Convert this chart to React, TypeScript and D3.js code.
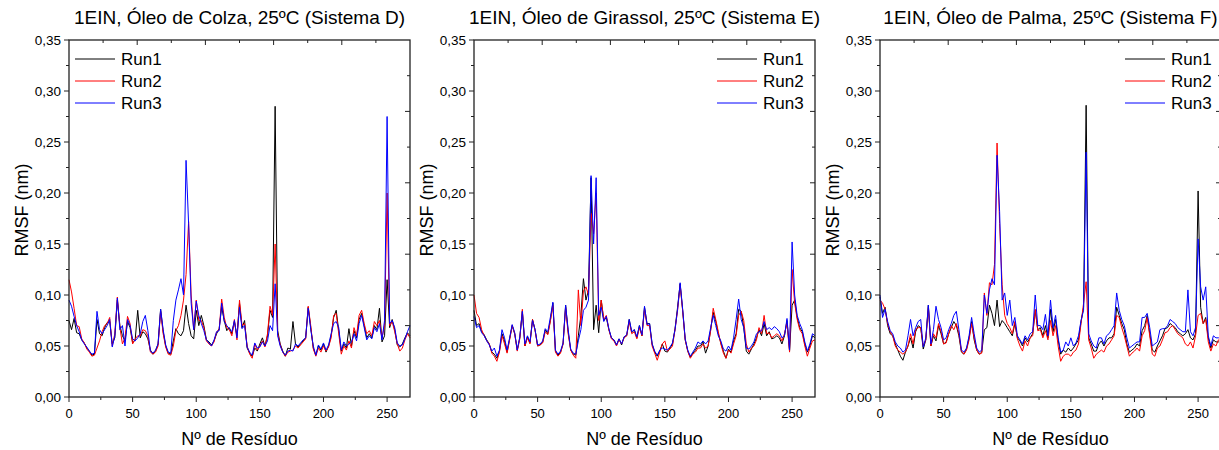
import * as d3 from 'd3';

// residue numbers (sampled every 2 residues)
const residues = [
  0, 2, 4, 6, 8, 10, 12, 14, 16, 18,
  20, 22, 24, 26, 28, 30, 32, 34, 36, 38,
  40, 42, 44, 46, 48, 50, 52, 54, 56, 58,
  60, 62, 64, 66, 68, 70, 72, 74, 76, 78,
  80, 82, 84, 86, 88, 90, 92, 94, 96, 98,
  100, 102, 104, 106, 108, 110, 112, 114, 116, 118,
  120, 122, 124, 126, 128, 130, 132, 134, 136, 138,
  140, 142, 144, 146, 148, 150, 152, 154, 156, 158,
  160, 162, 164, 166, 168, 170, 172, 174, 176, 178,
  180, 182, 184, 186, 188, 190, 192, 194, 196, 198,
  200, 202, 204, 206, 208, 210, 212, 214, 216, 218,
  220, 222, 224, 226, 228, 230, 232, 234, 236, 238,
  240, 242, 244, 246, 248, 250, 252, 254, 256, 258,
  260, 262, 264, 266, 268,
];

// RMSF values in 0.001 nm
const colzaRun1 = [
  75, 66, 77, 63, 62, 56, 53, 48, 45, 41,
  42, 76, 62, 60, 68, 73, 74, 52, 58, 95,
  70, 60, 55, 74, 68, 53, 56, 85, 58, 64,
  62, 57, 46, 42, 45, 52, 86, 64, 50, 43,
  42, 55, 67, 62, 60, 65, 90, 72, 60, 57,
  85, 70, 80, 70, 56, 54, 51, 55, 62, 67,
  88, 75, 65, 68, 62, 74, 60, 92, 68, 75,
  48, 43, 40, 48, 45, 52, 58, 50, 60, 85,
  78, 285, 65, 52, 45, 40, 48, 47, 74, 52,
  49, 52, 55, 58, 88, 68, 48, 41, 50, 46,
  52, 44, 50, 60, 78, 85, 65, 45, 52, 48,
  67, 50, 65, 58, 76, 82, 70, 58, 62, 58,
  70, 66, 87, 54, 60, 115, 68, 76, 66, 51,
  49, 52, 58, 63, 60,
];
const colzaRun2 = [
  115, 103, 87, 70, 69, 57, 53, 47, 44, 40,
  41, 48, 55, 64, 70, 72, 78, 50, 62, 98,
  68, 52, 58, 79, 72, 52, 57, 60, 60, 66,
  65, 60, 44, 42, 44, 50, 84, 62, 49, 42,
  41, 50, 65, 70, 80, 95, 120, 172, 100, 66,
  95, 75, 75, 68, 55, 52, 50, 54, 64, 66,
  96, 78, 68, 66, 60, 76, 56, 95, 70, 72,
  50, 42, 38, 52, 46, 50, 55, 49, 62, 89,
  80, 150, 62, 51, 44, 40, 44, 45, 46, 50,
  48, 51, 54, 57, 89, 70, 47, 40, 48, 44,
  50, 45, 49, 58, 80, 82, 62, 42, 50, 46,
  55, 48, 68, 60, 80, 85, 72, 62, 65, 60,
  74, 70, 75, 58, 70, 200, 70, 74, 64, 52,
  45, 48, 56, 62, 58,
];
const colzaRun3 = [
  95, 89, 79, 70, 64, 56, 52, 49, 45, 42,
  43, 84, 66, 62, 66, 70, 76, 49, 60, 97,
  66, 70, 50, 76, 70, 57, 55, 58, 62, 74,
  80, 65, 45, 43, 46, 52, 86, 66, 51, 44,
  43, 75, 95, 105, 116, 100, 232, 170, 92, 66,
  94, 80, 72, 65, 56, 53, 50, 56, 64, 65,
  92, 74, 70, 67, 64, 75, 58, 88, 67, 70,
  49, 44, 41, 53, 48, 49, 54, 50, 55, 70,
  65, 111, 60, 50, 44, 41, 45, 46, 45, 52,
  50, 53, 56, 58, 87, 66, 50, 41, 51, 47,
  53, 46, 51, 62, 72, 74, 68, 46, 54, 50,
  52, 54, 62, 55, 72, 80, 68, 56, 60, 57,
  68, 64, 72, 56, 75, 275, 72, 75, 68, 53,
  50, 51, 57, 64, 70,
];

const girassolRun1 = [
  85, 70, 72, 64, 61, 56, 52, 44, 42, 38,
  45, 62, 55, 44, 57, 70, 62, 46, 58, 84,
  50, 59, 53, 76, 66, 50, 51, 54, 66, 62,
  75, 92, 45, 41, 44, 52, 90, 64, 46, 42,
  41, 60, 80, 116, 95, 105, 215, 66, 90, 63,
  95, 75, 78, 66, 58, 56, 51, 57, 51, 59,
  60, 76, 63, 66, 58, 70, 60, 88, 72, 72,
  52, 44, 40, 45, 52, 45, 44, 48, 52, 67,
  88, 111, 85, 56, 45, 39, 43, 46, 50, 50,
  54, 43, 50, 66, 83, 74, 62, 53, 45, 38,
  47, 44, 55, 62, 86, 84, 68, 45, 42, 47,
  52, 58, 66, 60, 72, 60, 64, 57, 58, 60,
  58, 52, 60, 75, 45, 90, 95, 78, 68, 64,
  52, 44, 50, 60, 58,
];
const girassolRun2 = [
  100, 82, 78, 66, 60, 55, 52, 43, 40, 35,
  44, 60, 52, 43, 56, 70, 62, 45, 57, 86,
  50, 58, 52, 76, 65, 50, 51, 53, 64, 61,
  74, 90, 44, 40, 43, 52, 88, 62, 46, 41,
  38, 105, 70, 104, 108, 100, 180, 160, 200, 75,
  95, 76, 80, 66, 57, 55, 50, 56, 52, 58,
  60, 74, 62, 64, 57, 68, 60, 86, 70, 70,
  50, 43, 36, 44, 52, 55, 45, 47, 50, 66,
  85, 110, 84, 56, 45, 38, 42, 44, 48, 48,
  52, 48, 50, 65, 87, 76, 64, 52, 43, 38,
  46, 43, 52, 60, 80, 84, 75, 52, 44, 48,
  50, 56, 68, 62, 80, 62, 63, 58, 60, 62,
  60, 55, 62, 72, 44, 125, 92, 76, 66, 62,
  50, 40, 48, 55, 56,
];
const girassolRun3 = [
  79, 68, 70, 63, 60, 55, 51, 45, 48, 40,
  46, 66, 58, 46, 58, 71, 63, 46, 59, 84,
  52, 60, 54, 75, 66, 51, 52, 55, 67, 64,
  78, 93, 46, 42, 45, 53, 90, 66, 47, 43,
  42, 55, 66, 85, 88, 95, 217, 150, 215, 80,
  88, 74, 79, 67, 58, 56, 51, 57, 52, 59,
  61, 76, 64, 66, 59, 70, 61, 89, 71, 72,
  52, 45, 41, 46, 48, 47, 46, 49, 53, 66,
  86, 112, 86, 57, 46, 40, 44, 48, 54, 52,
  55, 52, 55, 68, 80, 70, 60, 55, 47, 45,
  50, 46, 58, 76, 96, 76, 68, 48, 47, 50,
  54, 62, 64, 65, 74, 66, 68, 66, 69, 67,
  64, 58, 60, 77, 46, 152, 100, 80, 72, 66,
  54, 45, 52, 62, 60,
];

const palmaRun1 = [
  98, 82, 88, 70, 62, 60, 52, 46, 40, 36,
  44, 50, 58, 48, 64, 70, 68, 47, 56, 90,
  50, 60, 55, 70, 62, 52, 54, 62, 68, 74,
  70, 60, 44, 42, 47, 58, 74, 56, 46, 42,
  44, 66, 68, 90, 82, 70, 95, 69, 75, 72,
  68, 64, 60, 72, 58, 55, 50, 58, 54, 58,
  62, 85, 66, 68, 60, 70, 58, 86, 64, 76,
  56, 42, 46, 44, 48, 45, 48, 52, 56, 74,
  88, 286, 58, 52, 45, 45, 52, 55, 50, 55,
  58, 58, 62, 88, 80, 72, 66, 52, 44, 46,
  48, 52, 50, 65, 70, 80, 62, 46, 44, 50,
  55, 60, 67, 68, 72, 70, 68, 64, 62, 60,
  62, 66, 58, 56, 62, 202, 88, 72, 78, 58,
  48, 56, 54, 54, 56,
];
const palmaRun2 = [
  95, 92, 86, 72, 64, 60, 50, 46, 44, 42,
  44, 50, 62, 52, 66, 68, 68, 50, 56, 88,
  50, 62, 58, 72, 64, 52, 53, 62, 70, 66,
  72, 62, 45, 42, 46, 56, 72, 58, 46, 42,
  43, 102, 80, 112, 110, 130, 249, 170, 110, 80,
  72, 68, 62, 74, 57, 50, 45, 55, 50, 58,
  60, 86, 65, 66, 58, 65, 56, 75, 60, 70,
  50, 35, 40, 42, 42, 40, 44, 46, 52, 72,
  92, 113, 56, 48, 38, 42, 44, 46, 44, 50,
  52, 56, 60, 80, 78, 68, 60, 50, 40, 43,
  45, 48, 45, 60, 65, 78, 60, 42, 40, 48,
  50, 56, 63, 64, 68, 70, 66, 62, 60, 58,
  52, 50, 54, 48, 60, 80, 82, 72, 76, 54,
  45, 52, 50, 56, 58,
];
const palmaRun3 = [
  100, 78, 86, 74, 65, 62, 54, 50, 48, 44,
  46, 60, 76, 60, 68, 74, 76, 49, 58, 90,
  52, 66, 89, 76, 68, 56, 58, 66, 72, 80,
  84, 66, 46, 44, 48, 60, 78, 62, 48, 44,
  46, 100, 82, 105, 116, 110, 237, 182, 95, 102,
  80, 95, 70, 78, 60, 56, 52, 60, 56, 62,
  64, 100, 70, 70, 66, 81, 60, 95, 68, 80,
  58, 44, 46, 54, 50, 58, 50, 53, 60, 75,
  85, 240, 62, 55, 50, 48, 58, 58, 52, 60,
  62, 66, 70, 102, 85, 76, 70, 58, 48, 50,
  52, 54, 54, 78, 78, 82, 68, 50, 52, 54,
  66, 67, 67, 70, 76, 74, 72, 68, 66, 64,
  64, 105, 64, 60, 68, 155, 108, 95, 108, 60,
  50, 60, 58, 58, 60,
];

const runNames = ['Run1', 'Run2', 'Run3'];
const runColors = ['#000000', '#ff0000', '#0000ff'];
const titles = [
  '1EIN, Óleo de Colza, 25ºC (Sistema D)',
  '1EIN, Óleo de Girassol, 25ºC (Sistema E)',
  '1EIN, Óleo de Palma, 25ºC (Sistema F)',
];
const xTicks = [0, 50, 100, 150, 200, 250];
const xMinorTicks = [25, 75, 125, 175, 225];
const yTicks = [0, 0.05, 0.1, 0.15, 0.2, 0.25, 0.3, 0.35];
const yTickLabels = ['0,00', '0,05', '0,10', '0,15', '0,20', '0,25', '0,30', '0,35'];

const panels = [
  { title: titles[0], left: 69, runs: [colzaRun1, colzaRun2, colzaRun3], legendLeft: 75 },
  { title: titles[1], left: 474, runs: [girassolRun1, girassolRun2, girassolRun3], legendLeft: 717 },
  { title: titles[2], left: 880, runs: [palmaRun1, palmaRun2, palmaRun3], legendLeft: 1125 },
];

const W = 1219;
const H = 450;
const plotW = 341;
const top = 40;
const bottom = 397;
const font = '"Liberation Sans", Arial, sans-serif';

const Panel = ({ p }) => {
  const x = d3.scaleLinear().domain([0, 268]).range([p.left, p.left + plotW]);
  const y = d3.scaleLinear().domain([0, 0.35]).range([bottom, top]);
  const line = d3
    .line()
    .x((d, i) => x(residues[i]))
    .y((d) => y(d / 1000));
  const right = p.left + plotW;
  const cx = p.left + plotW / 2;
  // mirror axes: 10 divisions on top and right
  const topTicks = d3.range(1, 10).map((k) => ({ v: p.left + (plotW * k) / 10, major: k % 2 === 0 }));
  const rightTicks = d3.range(1, 10).map((k) => ({ v: bottom - ((bottom - top) * k) / 10, major: k % 2 === 0 }));

  return (
    <g>
      <text x={cx} y={24} textAnchor="middle" fontSize={19} fontFamily={font} fill="#000">
        {p.title}
      </text>

      {p.runs.map((r, i) => (
        <path key={i} d={line(r)} fill="none" stroke={runColors[i]} strokeWidth={1} strokeLinejoin="round" />
      ))}

      <rect x={p.left} y={top} width={plotW} height={bottom - top} fill="none" stroke="#222" strokeWidth={1.3} />

      {topTicks.map((t, i) => (
        <line key={'t' + i} x1={t.v} x2={t.v} y1={top} y2={top + (t.major ? 5 : 3)} stroke="#222" strokeWidth={1} />
      ))}
      {rightTicks.map((t, i) => (
        <line key={'r' + i} x1={right} x2={right - (t.major ? 5 : 3)} y1={t.v} y2={t.v} stroke="#222" strokeWidth={1} />
      ))}

      {yTicks.map((v, i) => (
        <g key={'y' + i}>
          <line x1={p.left - 5} x2={p.left} y1={y(v)} y2={y(v)} stroke="#222" strokeWidth={1} />
          <text x={p.left - 8} y={y(v)} dy="0.35em" textAnchor="end" fontSize={13.5} fontFamily={font} fill="#000">
            {yTickLabels[i]}
          </text>
        </g>
      ))}
      {yTicks.slice(0, -1).map((v, i) => (
        <line key={'ym' + i} x1={p.left - 3} x2={p.left} y1={y(v + 0.025)} y2={y(v + 0.025)} stroke="#222" strokeWidth={1} />
      ))}

      {xTicks.map((v) => (
        <g key={'x' + v}>
          <line x1={x(v)} x2={x(v)} y1={bottom} y2={bottom + 5} stroke="#222" strokeWidth={1} />
          <text x={x(v)} y={418} textAnchor="middle" fontSize={13} fontFamily={font} fill="#000">
            {v}
          </text>
        </g>
      ))}
      {xMinorTicks.map((v) => (
        <line key={'xm' + v} x1={x(v)} x2={x(v)} y1={bottom} y2={bottom + 3} stroke="#222" strokeWidth={1} />
      ))}

      <text x={cx} y={445} textAnchor="middle" fontSize={18} fontFamily={font} fill="#000">
        Nº de Resíduo
      </text>
      <text
        transform={`translate(${p.left - 41},${210}) rotate(-90)`}
        textAnchor="middle"
        fontSize={18}
        fontFamily={font}
        fill="#000"
      >
        RMSF (nm)
      </text>

      {runNames.map((n, i) => (
        <g key={n}>
          <line x1={p.legendLeft} x2={p.legendLeft + 40} y1={59 + i * 22} y2={59 + i * 22} stroke={runColors[i]} strokeWidth={1} />
          <text x={p.legendLeft + 46} y={59 + i * 22} dy="0.36em" fontSize={17} fontFamily={font} fill="#000">
            {n}
          </text>
        </g>
      ))}
    </g>
  );
};

export default function App() {
  return (
    <svg
      width={W}
      height={H}
      style={{ position: 'absolute', left: 0, top: 0, background: '#fff' }}
    >
      <rect width={W} height={H} fill="#fff" />
      {panels.map((p, i) => (
        <Panel key={i} p={p} />
      ))}
    </svg>
  );
}
